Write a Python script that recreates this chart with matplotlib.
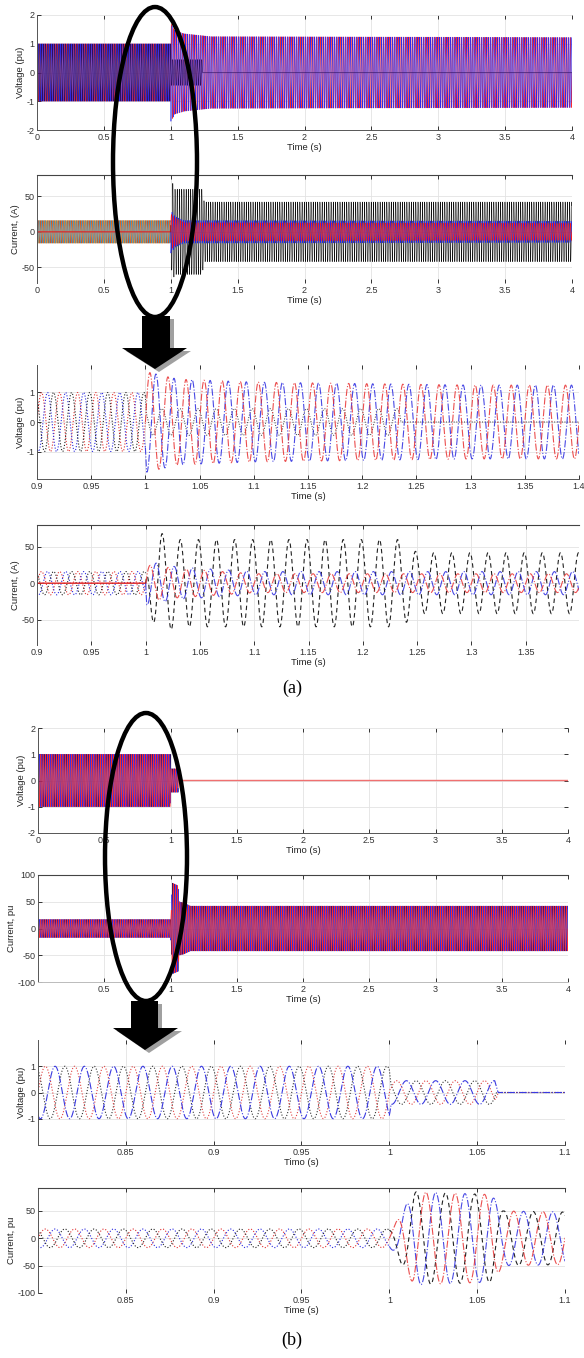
import numpy as np
import matplotlib
matplotlib.use("Agg")
import matplotlib.pyplot as plt
from matplotlib.patches import Ellipse, Polygon, Rectangle

plt.rcParams['font.family'] = ['Liberation Sans', 'DejaVu Sans']
plt.rcParams['axes.unicode_minus'] = False

W, H = 584, 1358

# --- data ---
f_hz = 60.0
phase_deg = [0.0, -120.0, 120.0]          # red, blue, black phase
t_fault = 1.0

# (a) voltage envelopes
a_v_rb_t = [0, 1.0, 1.001, 1.03, 1.1, 1.2, 1.3, 4.0]
a_v_rb_amp = [1.0, 1.0, 1.7, 1.45, 1.35, 1.3, 1.25, 1.22]
a_v_k_t = [0, 1.0, 1.001, 1.235, 1.236, 4.0]
a_v_k_amp = [1.0, 1.0, 0.45, 0.45, 0.0, 0.0]

# (a) current: pre-fault set and post-fault set
a_i_pre_amp = 16.0
a_i_r_t = [0, 1.0, 1.001, 1.03, 1.1, 4.0]
a_i_r_amp = [0, 0, 25, 20, 13, 12]
a_i_b_amp = [0, 0, 30, 22, 16, 15]
a_i_k_t = [0, 1.0, 1.003, 1.012, 1.03, 1.235, 1.25, 4.0]
a_i_k_amp = [0, 0, 40, 70, 60, 60, 42, 42]

# (b) voltage and current envelopes
b_v_t = [0, 1.0, 1.001, 1.06, 1.062, 4.0]
b_v_amp = [1.0, 1.0, 0.45, 0.45, 0.0, 0.0]
b_i_t = [0, 1.0, 1.003, 1.014, 1.058, 1.065, 1.1, 1.15, 4.0]
b_i_amp = [17, 17, 25, 85, 80, 50, 48, 42, 42]

sec_ticks = [0, 0.5, 1, 1.5, 2, 2.5, 3, 3.5, 4]
sec_labels = ['0', '0.5', '1', '1.5', '2', '2.5', '3', '3.5', '4']
zoom_a_ticks = [0.9, 0.95, 1, 1.05, 1.1, 1.15, 1.2, 1.25, 1.3, 1.35, 1.4]
zoom_a_labels = ['0.9', '0.95', '1', '1.05', '1.1', '1.15', '1.2', '1.25', '1.3', '1.35', '1.4']
zoom_b_ticks = [0.85, 0.9, 0.95, 1, 1.05, 1.1]
zoom_b_labels = ['0.85', '0.9', '0.95', '1', '1.05', '1.1']

t = np.arange(0, 4.0, 5e-5)


def wave(ts, amps, k):
    return np.interp(t, ts, amps) * np.sin(2 * np.pi * f_hz * t + np.deg2rad(phase_deg[k]))


a_v = [wave(a_v_rb_t, a_v_rb_amp, 0), wave(a_v_rb_t, a_v_rb_amp, 1), wave(a_v_k_t, a_v_k_amp, 2)]
a_i_pre = [np.where(t <= t_fault, a_i_pre_amp * np.sin(2 * np.pi * f_hz * t + np.deg2rad(p)), np.nan)
           for p in phase_deg]
a_i = [wave(a_i_r_t, a_i_r_amp, 0), wave(a_i_r_t, a_i_b_amp, 1), wave(a_i_k_t, a_i_k_amp, 2)]
b_v = [wave(b_v_t, b_v_amp, k) for k in range(3)]
b_i = [wave(b_i_t, b_i_amp, k) for k in range(3)]

fig = plt.figure(figsize=(W / 100, H / 100), dpi=100)


def add_ax(l, tp, r, b):
    return fig.add_axes([l / W, 1 - b / H, (r - l) / W, (b - tp) / H])


def style(ax, xlim, ylim, xt, xl, yt, xlabel, ylabel, top_line):
    ax.set_xlim(*xlim)
    ax.set_ylim(*ylim)
    ax.set_xticks(xt)
    ax.set_xticklabels(xl)
    ax.set_yticks(yt)
    ax.grid(True, color='#e3e3e3', lw=0.6)
    ax.set_axisbelow(True)
    ax.tick_params(direction='in', length=3, width=0.7, labelsize=6.5, colors='#333333',
                   top=True, pad=2)
    for s in ['left', 'bottom']:
        ax.spines[s].set_color('#555555')
        ax.spines[s].set_linewidth(0.7)
    ax.spines['right'].set_visible(False)
    ax.spines['top'].set_visible(top_line)
    ax.spines['top'].set_color('#444444')
    if top_line:
        ax.spines['bottom'].set_visible(False)
    ax.set_xlabel(xlabel, fontsize=6.8, color='#222222', labelpad=1)
    ax.set_ylabel(ylabel, fontsize=6.8, color='#222222', labelpad=1)


pre = t <= t_fault
post = t >= t_fault
red, blue, navy = '#ff2a2a', '#2a2aee', '#2b0f5e'
lw_d = 0.4

# ---- (a) voltage overview
ax1 = add_ax(37, 15, 572, 130)
ax1.plot(t, a_v[0], color=red, lw=lw_d)
ax1.plot(t, a_v[1], color=blue, lw=lw_d)
ax1.plot(t, a_v[2], color=navy, lw=lw_d)
style(ax1, (0, 4), (-2, 2), sec_ticks, sec_labels, [-2, -1, 0, 1, 2], 'Time (s)', 'Voltage (pu)', False)

# ---- (a) current overview
ax2 = add_ax(37, 175, 572, 283)
for k, c in zip([0, 1, 2], ['#f0a030', '#d95319', '#4d8fb0']):
    ax2.plot(t, a_i_pre[k], color=c, lw=lw_d)
ax2.plot(t[pre], a_i[0][pre], color='#e02020', lw=0.8)
ax2.plot(t[post], a_i[2][post], color='#111111', lw=lw_d)
ax2.plot(t[post], a_i[1][post], color='#2020ee', lw=lw_d)
ax2.plot(t[post], a_i[0][post], color='#ff1a1a', lw=lw_d)
style(ax2, (0, 4), (-72, 80), sec_ticks, sec_labels, [-50, 0, 50], 'Time (s)', 'Current, (A)', True)

# ---- (a) voltage zoom
ax3 = add_ax(37, 365, 579, 479)
zc = ['#e03030', '#2a2ae0', '#222222']
for k in range(3):
    ax3.plot(t[pre], a_v[k][pre], color=zc[k], lw=0.8, ls=':')
ax3.plot(t[post], a_v[2][post], color='#333333', lw=0.7, ls=':')
ax3.plot(t[post], a_v[1][post], color='#2a2ae0', lw=0.8, ls='-.', alpha=0.85)
ax3.plot(t[post], a_v[0][post], color='#e83030', lw=0.8, ls='-.', alpha=0.85)
style(ax3, (0.9, 1.4), (-1.93, 1.93), zoom_a_ticks, zoom_a_labels, [-1, 0, 1], 'Time (s)', 'Voltage (pu)', False)

# ---- (a) current zoom
ax4 = add_ax(37, 525, 579, 645)
for k in range(3):
    ax4.plot(t, a_i_pre[k], color=zc[k], lw=0.8, ls=':')
ax4.plot(t[pre], a_i[0][pre], color='#e02020', lw=1.0)
ax4.plot(t[post], a_i[2][post], color='#222222', lw=0.8, ls=(0, (4, 3)))
ax4.plot(t[post], a_i[1][post], color='#2a2ae0', lw=0.8, ls='-.', alpha=0.85)
ax4.plot(t[post], a_i[0][post], color='#e83030', lw=0.8, ls='-.', alpha=0.85)
style(ax4, (0.9, 1.399), (-85, 80), zoom_a_ticks[:-1], zoom_a_labels[:-1], [-50, 0, 50], 'Time (s)',
      'Current, (A)', True)

# ---- (b) voltage overview
ax5 = add_ax(38, 728, 568, 833)
ax5.plot(t, b_v[2], color=navy, lw=lw_d)
ax5.plot(t, b_v[1], color=blue, lw=lw_d)
ax5.plot(t, b_v[0], color=red, lw=lw_d)
ax5.plot(t[t > 1.06], b_v[0][t > 1.06], color='#f07070', lw=1.0)
style(ax5, (0, 4), (-2, 2), sec_ticks, sec_labels, [-2, -1, 0, 1, 2], 'Timo (s)', 'Voltage (pu)', False)
ax5.tick_params(axis='y', right=True)

# ---- (b) current overview
ax6 = add_ax(38, 875, 568, 982)
ax6.plot(t, b_i[2], color=navy, lw=lw_d)
ax6.plot(t, b_i[1], color=blue, lw=lw_d)
ax6.plot(t, b_i[0], color=red, lw=lw_d)
style(ax6, (0, 4), (-100, 100), sec_ticks[1:], sec_labels[1:], [-100, -50, 0, 50, 100], 'Time (s)',
      'Current, pu', True)
ax6.spines['bottom'].set_visible(True)
ax6.spines['bottom'].set_color('#bbbbbb')

# ---- (b) voltage zoom
ax7 = add_ax(38, 1040, 565, 1145)
for k, c, ls in zip([2, 0, 1], ['#333333', '#e04040', '#3a3ae0'], [':', ':', '-.']):
    ax7.plot(t, b_v[k], color=c, lw=0.8, ls=ls)
style(ax7, (0.8, 1.1), (-2, 2), zoom_b_ticks, zoom_b_labels, [-1, 0, 1], 'Timo (s)', 'Voltage (pu)', False)

# ---- (b) current zoom
ax8 = add_ax(38, 1188, 565, 1293)
for k in range(3):
    ax8.plot(t[pre], b_i[k][pre], color=zc[k], lw=0.8, ls=':')
ax8.plot(t[post], b_i[2][post], color='#222222', lw=0.8, ls=(0, (4, 3)))
ax8.plot(t[post], b_i[1][post], color='#2a2ae0', lw=0.8, ls='-.', alpha=0.85)
ax8.plot(t[post], b_i[0][post], color='#e83030', lw=0.8, ls='-.', alpha=0.85)
style(ax8, (0.8, 1.1), (-100, 92), zoom_b_ticks, zoom_b_labels, [-100, -50, 0, 50], 'Time (s)',
      'Current, pu', True)

# ---- annotations in pixel coordinates
ov = fig.add_axes([0, 0, 1, 1], zorder=10)
ov.set_xlim(0, W)
ov.set_ylim(H, 0)
ov.axis('off')
ov.patch.set_alpha(0)

ov.add_patch(Ellipse((155, 162), 84, 310, fill=False, lw=3.2, edgecolor='black'))
ov.add_patch(Ellipse((146, 857), 82, 288, fill=False, lw=3.2, edgecolor='black'))


def block_arrow(x0, x1, y0, y1, hx0, hx1, tip_x, tip_y):
    for dx, dy, c in [(4, 3, '#a0a0a0'), (0, 0, 'black')]:
        ov.add_patch(Rectangle((x0 + dx, y0 + dy), x1 - x0, y1 - y0, color=c, lw=0))
        ov.add_patch(Polygon([(hx0 + dx, y1 + dy), (hx1 + dx, y1 + dy), (tip_x + dx, tip_y + dy)],
                             closed=True, color=c, lw=0))


block_arrow(142, 170, 316, 348, 122, 187, 155, 369)
block_arrow(131, 158, 1001, 1028, 113, 178, 145, 1050)

ov.text(292, 688, '(a)', ha='center', va='center', fontsize=13, family='Liberation Serif')
ov.text(292, 1340, '(b)', ha='center', va='center', fontsize=13, family='Liberation Serif')

fig.savefig('out.png', dpi=100)
